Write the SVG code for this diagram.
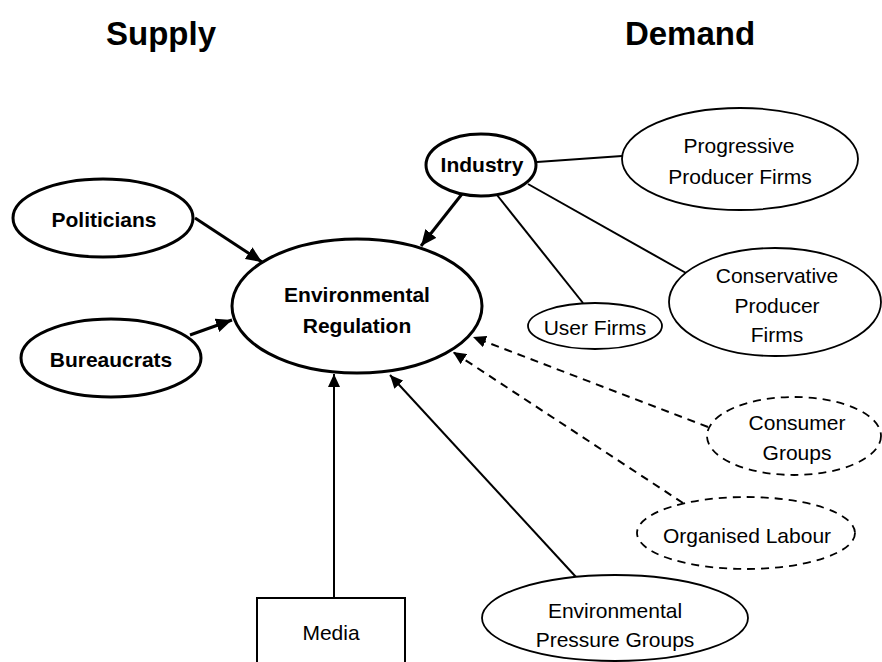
<svg xmlns="http://www.w3.org/2000/svg" width="882" height="662" viewBox="0 0 882 662">
<defs>
<marker id="ah" markerUnits="userSpaceOnUse" markerWidth="18" markerHeight="14" refX="16" refY="7" orient="auto"><path d="M0,0 L16,7 L0,14 z" fill="#000"/></marker>
<marker id="ahs" markerUnits="userSpaceOnUse" markerWidth="14" markerHeight="12" refX="13" refY="6" orient="auto"><path d="M0,0 L13,6 L0,12 z" fill="#000"/></marker>
</defs>
<style>
text{font-family:"Liberation Sans",Arial,sans-serif;fill:#000;text-anchor:middle}
.title{font-size:33px;font-weight:bold}
.b{font-size:21px;font-weight:bold}
.r{font-size:21px}
.eb{fill:#fff;stroke:#000;stroke-width:3}
.er{fill:#fff;stroke:#000;stroke-width:1.8}
.ed{fill:#fff;stroke:#000;stroke-width:1.8;stroke-dasharray:8 6}
.cb{stroke:#000;stroke-width:3;fill:none}
.cr{stroke:#000;stroke-width:2;fill:none}
.cd{stroke:#000;stroke-width:2;fill:none;stroke-dasharray:8 6}
</style>
<rect width="882" height="662" fill="#fff"/>
<text class="title" x="161" y="45">Supply</text>
<text class="title" x="690" y="45">Demand</text>
<g id="connectors">
<line class="cb" x1="195" y1="218" x2="262" y2="262" marker-end="url(#ah)"/>
<line class="cb" x1="190" y1="335" x2="232" y2="320" marker-end="url(#ah)"/>
<line class="cb" x1="462" y1="194" x2="421" y2="246" marker-end="url(#ah)"/>
<line class="cr" x1="334" y1="598" x2="334" y2="374" marker-end="url(#ahs)"/>
<line class="cr" x1="576" y1="577" x2="390" y2="375" marker-end="url(#ahs)"/>
<line class="cd" x1="708" y1="427" x2="473" y2="337" marker-end="url(#ahs)"/>
<line class="cd" x1="683" y1="503" x2="453" y2="352" marker-end="url(#ahs)"/>
<line class="cr" x1="537" y1="162" x2="622" y2="156"/>
<line class="cr" x1="497" y1="195" x2="583" y2="303"/>
<line class="cr" x1="528" y1="184" x2="686" y2="273"/>
</g>
<g id="politicians"><ellipse class="eb" cx="103" cy="218" rx="90" ry="39"/><text class="b" x="104" y="227">Politicians</text></g>
<g id="bureaucrats"><ellipse class="eb" cx="111" cy="358" rx="90" ry="39"/><text class="b" x="111" y="367">Bureaucrats</text></g>
<g id="env-regulation"><ellipse class="eb" cx="357" cy="306" rx="125" ry="67"/><text class="b" x="357" y="302">Environmental</text><text class="b" x="357" y="333">Regulation</text></g>
<g id="industry"><ellipse class="eb" cx="481" cy="165" rx="55" ry="31"/><text class="b" x="482" y="172">Industry</text></g>
<g id="progressive"><ellipse class="er" cx="740" cy="159" rx="118" ry="51"/><text class="r" x="739" y="153">Progressive</text><text class="r" x="740" y="184">Producer Firms</text></g>
<g id="conservative"><ellipse class="er" cx="775" cy="302" rx="106" ry="54"/><text class="r" x="777" y="283">Conservative</text><text class="r" x="777" y="313">Producer</text><text class="r" x="777" y="342">Firms</text></g>
<g id="user-firms"><ellipse class="er" cx="595" cy="326" rx="67" ry="23"/><text class="r" x="595" y="335">User Firms</text></g>
<g id="consumer-groups"><ellipse class="ed" cx="794" cy="436" rx="87" ry="39"/><text class="r" x="797" y="430">Consumer</text><text class="r" x="797" y="460">Groups</text></g>
<g id="organised-labour"><ellipse class="ed" cx="746" cy="533" rx="109" ry="36"/><text class="r" x="747" y="543">Organised Labour</text></g>
<g id="pressure-groups"><ellipse class="er" cx="615" cy="618" rx="133" ry="43"/><text class="r" x="615" y="618">Environmental</text><text class="r" x="615" y="647">Pressure Groups</text></g>
<g id="media"><rect x="257" y="598" width="148" height="70" fill="#fff" stroke="#000" stroke-width="2"/><text class="r" x="331" y="640">Media</text></g>
</svg>
